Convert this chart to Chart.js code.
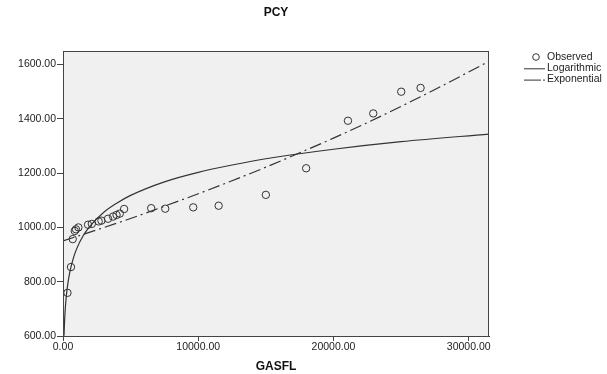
<!DOCTYPE html>
<html>
<head>
<meta charset="utf-8">
<script src="https://cdn.jsdelivr.net/npm/chart.js@4"></script>
<style>
  html, body { margin: 0; padding: 0; background: #fff; }
  #wrap { width: 607px; height: 374px; }
</style>
</head>
<body>
<div id="wrap"><canvas id="pcy"></canvas></div>
<script>
// observed GASFL / PCY pairs
const obsX = [330, 590, 720, 870, 960, 1140, 1850, 2130, 2640, 2840, 3330, 3700, 3960, 4200, 4520,
  6520, 7560, 9630, 11510, 15000, 17980, 21070, 22940, 25010, 26440];
const obsY = [759, 854, 957, 987, 993, 1000, 1010, 1013, 1022, 1025, 1032, 1040, 1046, 1051, 1068,
  1071, 1069, 1074, 1080, 1120, 1218, 1393, 1420, 1500, 1514];

// logarithmic fit
const logX = [75, 100, 150, 200, 300, 500, 750, 1000, 1500, 2000, 3000, 4000, 5000, 7500,
  10000, 12500, 15000, 20000, 25000, 31500];
const logY = [601, 636, 686, 722, 772, 834, 884, 920, 970, 1005, 1055, 1090, 1118, 1168,
  1203, 1230, 1253, 1288, 1316, 1344];

// exponential fit
const expX = [0, 2500, 5000, 7500, 10000, 12500, 15000, 17500, 20000, 22500, 25000, 27500, 31500];
const expY = [950, 991, 1033, 1078, 1124, 1172, 1222, 1275, 1329, 1386, 1446, 1508, 1612];

const xTicks = [0, 10000, 20000, 30000];
const yTicks = [600, 800, 1000, 1200, 1400, 1600];

const seriesNames = ["Observed", "Logarithmic", "Exponential"];

const ink = "#333";
const font = "Liberation Sans, Arial, sans-serif";
const expDash = [12, 4, 2, 4];

const pairs = (xs, ys) => xs.map((x, i) => ({ x: x, y: ys[i] }));

// gray plot box, frame, title and legend
const frame = {
  id: "frame",
  beforeDatasetsDraw(chart) {
    const { ctx, chartArea: a } = chart;
    ctx.save();
    ctx.fillStyle = "#f0f0f0";
    ctx.fillRect(a.left, a.top, a.right - a.left, a.bottom - a.top);
    ctx.restore();
  },
  afterDraw(chart) {
    const { ctx, chartArea: a } = chart;
    ctx.save();
    ctx.strokeStyle = "#444";
    ctx.lineWidth = 1;
    ctx.strokeRect(a.left + 0.5, a.top + 0.5, a.right - a.left - 1, a.bottom - a.top);

    ctx.fillStyle = "#111";
    ctx.font = "bold 12px " + font;
    ctx.textAlign = "center";
    ctx.textBaseline = "middle";
    ctx.fillText("PCY", (a.left + a.right) / 2, 13);

    // legend
    ctx.font = "10.5px " + font;
    ctx.textAlign = "left";
    ctx.fillStyle = "#222";
    const lx = 524, tx = 547;
    let y = 57;
    ctx.strokeStyle = ink;
    ctx.beginPath();
    ctx.arc(536, y, 3.3, 0, Math.PI * 2);
    ctx.stroke();
    ctx.fillText(seriesNames[0], tx, y);
    y += 11.3;
    ctx.beginPath();
    ctx.moveTo(lx, y + 0.5);
    ctx.lineTo(lx + 21, y + 0.5);
    ctx.stroke();
    ctx.fillText(seriesNames[1], tx, y);
    y += 11.3;
    ctx.beginPath();
    ctx.moveTo(lx, y + 0.5);
    ctx.lineTo(lx + 17, y + 0.5);
    ctx.moveTo(lx + 19, y + 0.5);
    ctx.lineTo(lx + 21, y + 0.5);
    ctx.stroke();
    ctx.fillText(seriesNames[2], tx, y);
    ctx.restore();
  }
};

new Chart(document.getElementById("pcy"), {
  type: "scatter",
  data: {
    datasets: [
      {
        label: seriesNames[0],
        data: pairs(obsX, obsY),
        showLine: false,
        pointRadius: 3.7,
        pointBackgroundColor: "rgba(0,0,0,0)",
        pointBorderColor: ink,
        pointBorderWidth: 1
      },
      {
        label: seriesNames[1],
        data: pairs(logX, logY),
        showLine: true,
        pointRadius: 0,
        borderColor: ink,
        borderWidth: 1.2,
        cubicInterpolationMode: "monotone"
      },
      {
        label: seriesNames[2],
        data: pairs(expX, expY),
        showLine: true,
        pointRadius: 0,
        borderColor: ink,
        borderWidth: 1.2,
        borderDash: expDash,
        cubicInterpolationMode: "monotone"
      }
    ]
  },
  options: {
    responsive: true,
    maintainAspectRatio: false,
    animation: false,
    layout: { padding: { top: 51, right: 118, left: 0, bottom: 0 } },
    plugins: {
      legend: { display: false },
      tooltip: { enabled: false }
    },
    scales: {
      x: {
        type: "linear",
        min: 0,
        max: 31500,
        afterBuildTicks: (axis) => { axis.ticks = xTicks.map(v => ({ value: v })); },
        afterFit: (axis) => { axis.height = 38; },
        border: { display: true, color: "#444" },
        grid: { drawOnChartArea: false, drawTicks: true, tickLength: 5, color: "#444" },
        ticks: {
          padding: 0,
          maxRotation: 0,
          color: "#222",
          font: { family: font, size: 10.5 },
          callback: (v) => v.toFixed(2)
        },
        title: {
          display: true,
          text: "GASFL",
          color: "#111",
          padding: { top: 1, bottom: 0 },
          font: { family: font, size: 12, weight: "bold" }
        }
      },
      y: {
        type: "linear",
        min: 600,
        max: 1650,
        afterBuildTicks: (axis) => { axis.ticks = yTicks.map(v => ({ value: v })); },
        afterFit: (axis) => { axis.width = 63; },
        border: { display: true, color: "#444" },
        grid: { drawOnChartArea: false, drawTicks: true, tickLength: 6, color: "#444" },
        ticks: {
          padding: 1,
          color: "#222",
          font: { family: font, size: 10.5 },
          callback: (v) => v.toFixed(2)
        }
      }
    }
  },
  plugins: [frame]
});
</script>
</body>
</html>
